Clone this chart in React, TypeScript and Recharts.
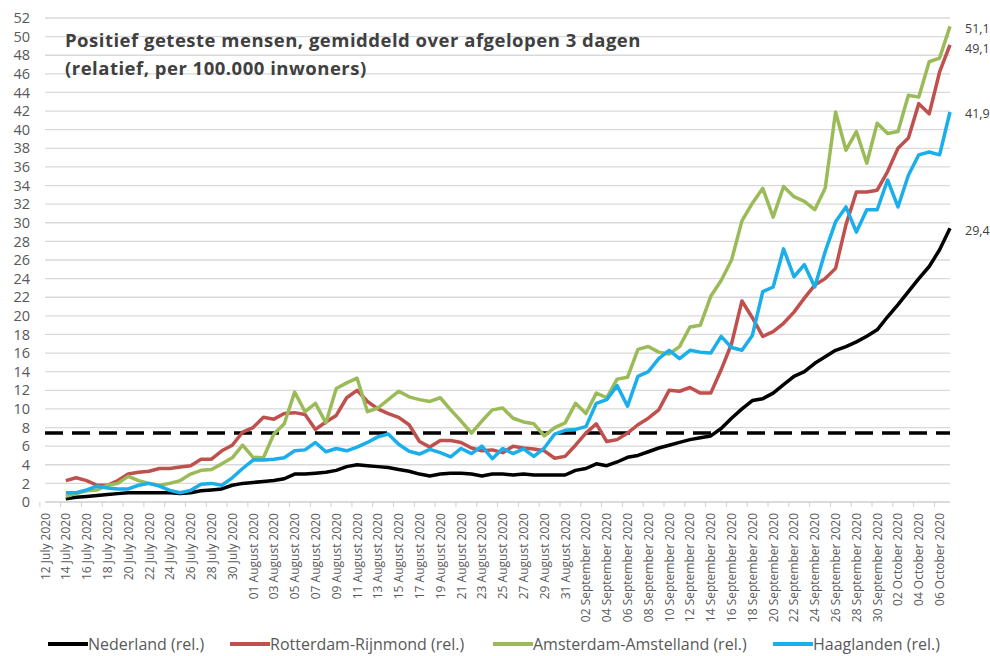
import React from "react";
import { LineChart, Line, XAxis, YAxis, CartesianGrid, ReferenceLine, Legend } from "recharts";

// Category spans (month name, first day, last day)
const MONTH_SPANS: [string, number, number][] = [
  ["July", 12, 31],
  ["August", 1, 31],
  ["September", 1, 30],
  ["October", 1, 7],
];

const DATES: string[] = MONTH_SPANS.flatMap(([m, a, b]) => {
  const out: string[] = [];
  for (let d = a; d <= b; d++) out.push(`${String(d).padStart(2, "0")} ${m} 2020`);
  return out;
});

const Y_TICKS = [0, 2, 4, 6, 8, 10, 12, 14, 16, 18, 20, 22, 24, 26, 28, 30, 32, 34, 36, 38, 40, 42, 44, 46, 48, 50, 52];

const THRESHOLD = 7.4;

const NEDERLAND = [
  null, null,
  0.35, 0.5, 0.6, 0.7, 0.8, 0.9, 1.0, 1.0, 1.0, 1.0,
  1.0, 0.9, 1.0, 1.2, 1.3, 1.4, 1.8, 2.0, 2.1, 2.2,
  2.3, 2.5, 3.0, 3.0, 3.1, 3.2, 3.4, 3.8, 4.0, 3.9,
  3.8, 3.7, 3.5, 3.3, 3.0, 2.8, 3.0, 3.1, 3.1, 3.0,
  2.8, 3.0, 3.0, 2.9, 3.0, 2.9, 2.9, 2.9, 2.9, 3.4,
  3.6, 4.1, 3.9, 4.3, 4.8, 5.0, 5.4, 5.8, 6.1, 6.4,
  6.7, 6.9, 7.1, 7.9, 9.0, 10.0, 10.9, 11.1, 11.7, 12.6,
  13.5, 14.0, 14.9, 15.6, 16.3, 16.7, 17.2, 17.8, 18.5, 19.9,
  21.2, 22.6, 24.0, 25.3, 27.1, 29.4,
];

const ROTTERDAM = [
  null, null,
  2.3, 2.6, 2.3, 1.8, 1.8, 2.3, 3.0, 3.2, 3.3, 3.6,
  3.6, 3.75, 3.9, 4.6, 4.6, 5.5, 6.1, 7.5, 8.0, 9.1,
  8.9, 9.5, 9.6, 9.4, 7.8, 8.6, 9.3, 11.2, 12.0, 10.8,
  10.0, 9.5, 9.1, 8.3, 6.5, 5.9, 6.6, 6.6, 6.4, 5.8,
  5.5, 5.6, 5.3, 6.0, 5.8, 5.7, 5.5, 4.7, 4.9, 6.1,
  7.4, 8.4, 6.5, 6.7, 7.4, 8.3, 9.0, 9.9, 12.0, 11.9,
  12.3, 11.7, 11.7, 14.2, 17.0, 21.6, 19.8, 17.8, 18.3, 19.2,
  20.4, 21.9, 23.3, 24.0, 25.1, 29.8, 33.3, 33.3, 33.5, 35.5,
  38.0, 39.1, 42.8, 41.7, 46.2, 49.1,
];

const AMSTERDAM = [
  null, null,
  0.6, 0.9, 1.2, 1.3, 1.8, 2.0, 2.75, 2.3, 2.0, 1.8,
  2.0, 2.3, 3.0, 3.4, 3.5, 4.1, 4.75, 6.1, 4.8, 4.75,
  7.3, 8.4, 11.8, 9.7, 10.6, 8.5, 12.2, 12.8, 13.3, 9.7,
  10.1, 11.0, 11.9, 11.3, 11.0, 10.8, 11.2, 9.9, 8.7, 7.4,
  8.7, 9.9, 10.1, 9.0, 8.6, 8.4, 7.1, 8.0, 8.5, 10.6,
  9.5, 11.7, 11.2, 13.2, 13.4, 16.4, 16.7, 16.1, 15.9, 16.7,
  18.8, 19.0, 22.1, 23.8, 26.0, 30.2, 32.1, 33.7, 30.6, 33.9,
  32.8, 32.3, 31.4, 33.7, 41.9, 37.8, 39.8, 36.4, 40.7, 39.6,
  39.8, 43.7, 43.5, 47.3, 47.7, 51.1,
];

const HAAGLANDEN = [
  null, null,
  1.0, 1.0, 1.3, 1.7, 1.5, 1.4, 1.4, 1.8, 2.0, 1.7,
  1.25, 1.0, 1.25, 1.9, 2.0, 1.8, 2.6, 3.6, 4.5, 4.5,
  4.6, 4.75, 5.5, 5.6, 6.4, 5.4, 5.75, 5.5, 5.9, 6.4,
  7.0, 7.3, 6.2, 5.45, 5.15, 5.65, 5.3, 4.85, 5.75, 5.2,
  6.0, 4.65, 5.75, 5.2, 5.7, 4.9, 5.8, 7.3, 7.7, 7.8,
  8.1, 10.6, 11.0, 12.5, 10.3, 13.5, 14.0, 15.4, 16.3, 15.4,
  16.3, 16.1, 16.0, 17.8, 16.6, 16.3, 17.9, 22.6, 23.1, 27.2,
  24.2, 25.5, 23.1, 26.9, 30.1, 31.7, 29.0, 31.4, 31.4, 34.6,
  31.7, 35.1, 37.3, 37.6, 37.3, 41.9,
];

const SERIES = [
  { key: "ned", name: "Nederland (rel.)", color: "#000000", values: NEDERLAND, labelDy: 2 },
  { key: "rot", name: "Rotterdam-Rijnmond (rel.)", color: "#C0504D", values: ROTTERDAM, labelDy: 4 },
  { key: "ams", name: "Amsterdam-Amstelland (rel.)", color: "#9BBB59", values: AMSTERDAM, labelDy: 2 },
  { key: "haa", name: "Haaglanden (rel.)", color: "#1AAEEB", values: HAAGLANDEN, labelDy: 1 },
];

const DATA = DATES.map((date, i) => {
  const row: Record<string, any> = { date };
  SERIES.forEach((s) => {
    row[s.key] = s.values[i];
  });
  return row;
});

const LAST = DATES.length - 1;
const FONT = "'Open Sans', 'Liberation Sans', sans-serif";
const TEXT = "#595959";

const fmt = (v: number) => v.toFixed(1).replace(".", ",");

const XTick = (props: any) => {
  const { x, y, payload } = props;
  return (
    <g>
      <line x1={x - 5.14} x2={x - 5.14} y1={y - 11} y2={y - 6} stroke="#D0D0D0" strokeWidth={1} />
      <text
        x={x}
        y={y}
        transform={`rotate(-90, ${x}, ${y})`}
        textAnchor="end"
        dominantBaseline="central"
        fontSize={12}
        fontFamily={FONT}
        fill={TEXT}
      >
        {payload.value}
      </text>
    </g>
  );
};

const endLabel = (dy: number) => (props: any) => {
  const { x, y, index, value } = props;
  if (index !== LAST || value == null) return <g />;
  return (
    <text x={x + 15} y={y + dy} dominantBaseline="central" fontSize={12.5} fontFamily={FONT} fill="#404040">
      {fmt(value)}
    </text>
  );
};

const LEGEND_X = [48, 230, 493, 773];

const LegendContent = () => (
  <div style={{ position: "relative", width: 990, height: 24 }}>
    {SERIES.map((s, i) => (
      <div
        key={s.key}
        style={{
          position: "absolute",
          left: LEGEND_X[i],
          top: 0,
          height: 24,
          display: "flex",
          alignItems: "center",
          whiteSpace: "nowrap",
        }}
      >
        <div style={{ width: 40, height: 4, background: s.color }} />
        <span style={{ fontFamily: FONT, fontSize: 16, color: TEXT }}>{s.name}</span>
      </div>
    ))}
  </div>
);

export default function App() {
  return (
    <div style={{ position: "absolute", left: 0, top: 0, width: 990, height: 656, background: "#ffffff" }}>
      <LineChart
        width={990}
        height={656}
        data={DATA}
        margin={{ top: 18, right: 40, left: 0, bottom: 0 }}
        style={{ overflow: "visible" }}
      >
        <CartesianGrid vertical={false} stroke="#D9D9D9" strokeWidth={1.3} />
        <XAxis
          dataKey="date"
          interval={1}
          height={130}
          tickSize={0}
          tickMargin={11}
          tick={<XTick />}
          tickLine={false}
          axisLine={{ stroke: "#D9D9D9", strokeWidth: 1.3 }}
        />
        <YAxis
          domain={[0, 52]}
          ticks={Y_TICKS}
          width={45}
          tickSize={0}
          tickMargin={15}
          axisLine={false}
          tickLine={false}
          tick={{ fontSize: 14.5, fontFamily: FONT, fill: TEXT }}
          interval={0}
        />
        <ReferenceLine y={THRESHOLD} stroke="#000000" strokeWidth={3.5} strokeDasharray="18 9" />
        {SERIES.map((s) => (
          <Line
            key={s.key}
            type="linear"
            dataKey={s.key}
            name={s.name}
            stroke={s.color}
            strokeWidth={3.5}
            strokeLinejoin="round"
            dot={false}
            activeDot={false}
            isAnimationActive={false}
            label={endLabel(s.labelDy)}
          />
        ))}
        <Legend verticalAlign="bottom" content={<LegendContent />} wrapperStyle={{ left: 0, width: 990 }} />
      </LineChart>
      <div
        style={{
          position: "absolute",
          left: 65,
          top: 26,
          fontFamily: FONT,
          fontWeight: 700,
          fontSize: 18.5,
          letterSpacing: 0.5,
          lineHeight: "28px",
          color: "#404040",
          whiteSpace: "nowrap",
        }}
      >
        <div>Positief geteste mensen, gemiddeld over afgelopen 3 dagen</div>
        <div>(relatief, per 100.000 inwoners)</div>
      </div>
    </div>
  );
}
